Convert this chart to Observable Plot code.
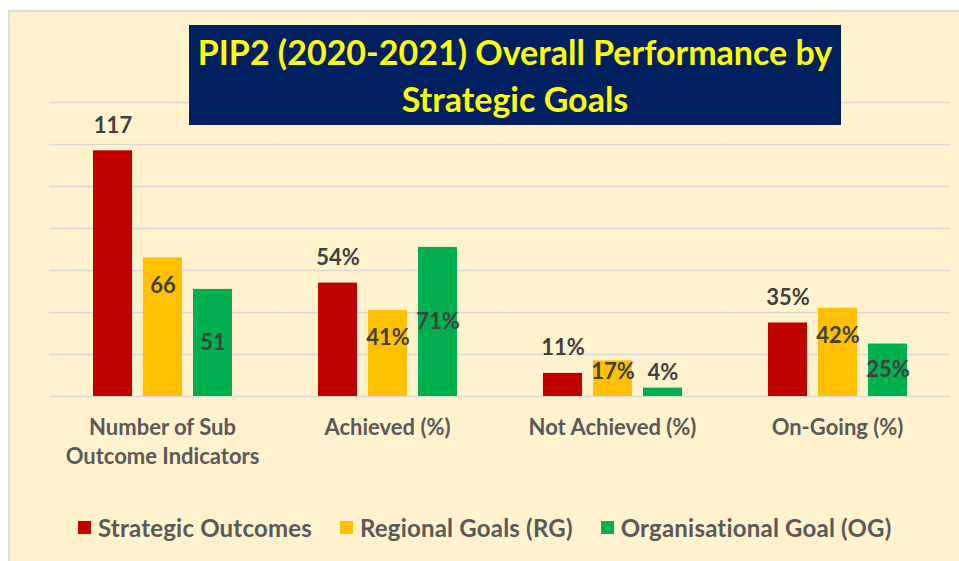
<!DOCTYPE html>
<html>
<head>
<meta charset="utf-8">
<script src="https://cdn.jsdelivr.net/npm/d3@7"></script>
<script src="https://cdn.jsdelivr.net/npm/@observablehq/plot@0.6"></script>
<style>
  html, body { margin: 0; padding: 0; background: #ffffff; width: 959px; height: 561px; overflow: hidden; }
  #bg { position: absolute; left: 8px; top: 10px; width: 951px; height: 551px; box-sizing: border-box;
        background: #FFF2CC; border-left: 2px solid #DDDDDD; border-top: 2px solid #DDDDDD; }
  #chart { position: absolute; left: 0; top: 0; }
  #title { position: absolute; left: 189px; top: 25px; width: 652px; height: 100px; background: #002060;
           color: #FFFF00; font-family: Lato, sans-serif; font-weight: bold; font-size: 34px; line-height: 47px;
           text-align: center; box-sizing: border-box; padding-top: 3px; white-space: nowrap; }
  #legend { position: absolute; left: 78px; top: 513px; display: flex; align-items: center;
            font-family: Lato, sans-serif; font-weight: bold; font-size: 24px; letter-spacing: 0.2px; color: #595959; white-space: nowrap; }
  .item { display: flex; align-items: center; margin-right: 28px; }
  .sw { width: 13px; height: 13px; margin-right: 7px; }
</style>
</head>
<body>
<div id="bg"></div>
<div id="chart"></div>
<div id="title">PIP2 (2020-2021) Overall Performance by<br>Strategic Goals</div>
<div id="legend"></div>
<script>
const categories = ["Number of Sub\nOutcome Indicators", "Achieved (%)", "Not Achieved (%)", "On-Going (%)"];
const units = ["", "%", "%", "%"];
const series = ["Strategic Outcomes", "Regional Goals (RG)", "Organisational Goal (OG)"];
const strategicOutcomes = [117, 54, 11, 35];
const regionalGoals = [66, 41, 17, 42];
const organisationalGoal = [51, 71, 4, 25];
const colors = ["#C00000", "#FFC000", "#00B050"];
const gridTicks = [0, 20, 40, 60, 80, 100, 120, 140];

const seriesValues = [strategicOutcomes, regionalGoals, organisationalGoal];
const rows = [];
categories.forEach((c, i) => {
  series.forEach((s, j) => {
    rows.push({category: c, series: s, value: seriesValues[j][i], unit: units[i]});
  });
});

const W = 959, ML = 49, MR = 9;
const padOuter = 0.19, padInner = 0.38;
const step = (W - ML - MR) / (categories.length - padInner + 2 * padOuter);
const ext = step * padOuter;

const labelStyle = {fx: "category", x: "series", text: d => d.value + d.unit,
  fontSize: 22, fontWeight: "bold", fill: "#404040", fontFamily: "Lato"};

const chart = Plot.plot({
  width: W, height: 480,
  marginLeft: ML, marginRight: MR, marginTop: 102, marginBottom: 84,
  style: {background: "transparent", fontFamily: "Lato", fontWeight: "bold", overflow: "visible"},
  fx: {domain: categories, paddingInner: padInner, paddingOuter: padOuter, label: null},
  x: {domain: series, paddingInner: 0.22, paddingOuter: 0, axis: null},
  y: {domain: [0, 140], axis: null},
  color: {domain: series, range: colors},
  marks: [
    Plot.ruleY(gridTicks, {stroke: "#D9D9D9", strokeWidth: 1.5, insetLeft: -ext, insetRight: -ext}),
    Plot.barY(rows, {fx: "category", x: "series", y: "value", fill: "series"}),
    Plot.text(rows.filter(d => d.series === series[0]), {...labelStyle, y: "value", dy: -25}),
    Plot.text(rows.filter(d => d.series === series[1]), {...labelStyle, y: d => Math.max(d.value, 24.8), dy: 28}),
    Plot.text(rows.filter(d => d.series === series[2]), {...labelStyle, y: d => Math.max(d.value / 2, 11.4)}),
    Plot.axisFx({anchor: "bottom", tickSize: 0, tickPadding: 18, fontSize: 22, fontWeight: "bold",
      fill: "#595959", lineHeight: 1.32, label: null})
  ]
});
document.getElementById("chart").appendChild(chart);

const legend = document.getElementById("legend");
series.forEach((s, j) => {
  const item = document.createElement("div");
  item.className = "item";
  const sw = document.createElement("div");
  sw.className = "sw";
  sw.style.background = colors[j];
  const t = document.createElement("span");
  t.textContent = s;
  item.appendChild(sw);
  item.appendChild(t);
  legend.appendChild(item);
});
</script>
</body>
</html>
